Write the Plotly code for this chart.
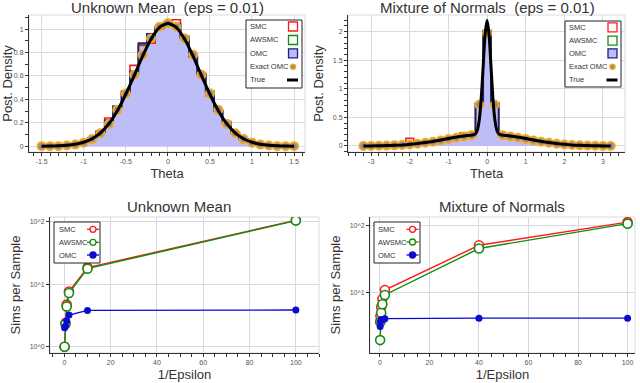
import plotly.graph_objects as go

# ---- top left: Unknown Mean (eps = 0.01), bins of width 0.1 ----
theta_um = [-1.5, -1.4, -1.3, -1.2, -1.1, -1.0, -0.9, -0.8, -0.7, -0.6, -0.5,
            -0.4, -0.3, -0.2, -0.1, 0.0, 0.1, 0.2, 0.3, 0.4, 0.5,
            0.6, 0.7, 0.8, 0.9, 1.0, 1.1, 1.2, 1.3, 1.4, 1.5]
smc_um = [0, 0, 0, 0.005, 0.02, 0.04, 0.07, 0.13, 0.24, 0.33, 0.47,
          0.69, 0.86, 0.88, 1.00, 1.06, 1.08, 0.93, 0.76, 0.62, 0.43,
          0.31, 0.21, 0.12, 0.06, 0.03, 0.01, 0.005, 0, 0, 0]
awsmc_um = [0, 0, 0, 0.005, 0.015, 0.035, 0.07, 0.12, 0.22, 0.34, 0.46,
            0.62, 0.87, 0.90, 1.01, 1.06, 1.05, 0.94, 0.78, 0.62, 0.47,
            0.30, 0.20, 0.11, 0.06, 0.03, 0.012, 0.004, 0, 0, 0]
omc_um = [0, 0, 0, 0.005, 0.015, 0.035, 0.07, 0.12, 0.22, 0.34, 0.46,
          0.64, 0.88, 0.96, 1.02, 1.05, 1.04, 0.92, 0.77, 0.61, 0.45,
          0.30, 0.20, 0.11, 0.06, 0.03, 0.012, 0.004, 0, 0, 0]
exact_um = [0, 0, 0, 0.005, 0.013, 0.03, 0.06, 0.11, 0.19, 0.31, 0.45,
            0.61, 0.78, 0.92, 1.02, 1.05, 1.02, 0.92, 0.78, 0.61, 0.45,
            0.31, 0.19, 0.11, 0.06, 0.03, 0.013, 0.005, 0, 0, 0]
true_um = [0.0, 0.001, 0.003, 0.007, 0.016, 0.033, 0.063, 0.114, 0.192, 0.302, 0.443,
           0.602, 0.769, 0.913, 1.014, 1.05, 1.014, 0.913, 0.769, 0.602, 0.443,
           0.302, 0.192, 0.114, 0.063, 0.033, 0.016, 0.007, 0.003, 0.001, 0.0]

# ---- top right: Mixture of Normals (eps = 0.01), bins of width 0.2 ----
theta_mn = [-3.2, -3.0, -2.8, -2.6, -2.4, -2.2, -2.0, -1.8, -1.6, -1.4, -1.2,
            -1.0, -0.8, -0.6, -0.4, -0.2, 0.0, 0.2, 0.4, 0.6, 0.8,
            1.0, 1.2, 1.4, 1.6, 1.8, 2.0, 2.2, 2.4, 2.6, 2.8, 3.0, 3.2]
smc_mn = [0, 0, 0, 0.005, 0.01, 0.02, 0.135, 0.075, 0.05, 0.07, 0.10,
          0.12, 0.15, 0.23, 0.19, 0.74, 2.0, 0.75, 0.18, 0.15, 0.13,
          0.12, 0.10, 0.11, 0.05, 0.04, 0.03, 0.02, 0.01, 0.005, 0, 0, 0]
awsmc_mn = [0, 0, 0, 0.005, 0.01, 0.02, 0.03, 0.04, 0.06, 0.08, 0.10,
            0.15, 0.15, 0.17, 0.18, 0.74, 2.0, 0.75, 0.19, 0.15, 0.13,
            0.16, 0.10, 0.07, 0.05, 0.04, 0.06, 0.02, 0.01, 0.005, 0, 0, 0]
omc_mn = [0, 0, 0, 0.005, 0.01, 0.02, 0.03, 0.04, 0.055, 0.075, 0.095,
          0.12, 0.14, 0.16, 0.18, 0.74, 2.02, 0.74, 0.18, 0.16, 0.14,
          0.12, 0.095, 0.075, 0.055, 0.04, 0.03, 0.02, 0.01, 0.005, 0, 0, 0]
exact_mn = [0.001, 0.002, 0.004, 0.007, 0.011, 0.018, 0.027, 0.04, 0.056, 0.075, 0.097,
            0.121, 0.145, 0.167, 0.19, 0.72, 1.97, 0.72, 0.19, 0.167, 0.145,
            0.121, 0.097, 0.075, 0.056, 0.04, 0.027, 0.018, 0.011, 0.007, 0.004, 0.002, 0.001]
true_mn_x = [-3.2, -3.0, -2.8, -2.6, -2.4, -2.2, -2.0, -1.8, -1.6, -1.4, -1.2, -1.0,
             -0.8, -0.6, -0.4, -0.35, -0.3, -0.25, -0.2, -0.15, -0.1, -0.05, 0.0,
             0.05, 0.1, 0.15, 0.2, 0.25, 0.3, 0.35, 0.4, 0.6, 0.8, 1.0, 1.2,
             1.4, 1.6, 1.8, 2.0, 2.2, 2.4, 2.6, 2.8, 3.0, 3.2]
true_mn_y = [0.001, 0.002, 0.004, 0.007, 0.011, 0.018, 0.03, 0.043, 0.06, 0.08, 0.105, 0.13,
             0.155, 0.175, 0.19, 0.197, 0.215, 0.281, 0.466, 0.845, 1.41, 1.96, 2.2,
             1.96, 1.41, 0.845, 0.466, 0.281, 0.215, 0.197, 0.19, 0.175, 0.155, 0.13, 0.105,
             0.08, 0.06, 0.043, 0.03, 0.018, 0.011, 0.007, 0.004, 0.002, 0.001]

# ---- bottom: simulations per sample vs 1/epsilon ----
inv_eps_um = [0.1, 0.5, 1, 2, 10, 100]
sims_smc_um = [1.0, 2.4, 4.7, 7.6, 18.3, 104]
sims_awsmc_um = [1.0, 2.3, 4.4, 7.2, 17.6, 103]
sims_omc_um = [2.0, 2.15, 2.6, 3.2, 3.8, 3.85]

inv_eps_mn = [0.1, 0.2, 0.5, 1, 2, 40, 100]
sims_smc_mn = [3.6, 4.4, 6.0, 7.9, 10.8, 51, 114]
sims_awsmc_mn = [1.9, 3.6, 4.9, 6.6, 9.1, 45.6, 108]
sims_omc_mn = [3.05, 3.6, 3.85, 3.85, 4.0, 4.07, 4.07]

RED, GREEN, NAVY, BLUE = "#ff1a1a", "#128c12", "#1c1c8c", "#0a0ad0"
FILL, ORANGE, DOT = "#bdbdf7", "#f5a623", "#8a8a9a"
FONT = "Liberation Sans, Arial, sans-serif"


def px(x):
    return x / 640


def py(y):
    return 1 - y / 383


def steps(centers, vals, w):
    edges = [round(c - w / 2, 3) for c in centers] + [round(centers[-1] + w / 2, 3)]
    return edges, list(vals) + [vals[-1]]


fig = go.Figure()


def add_hist(xa, ya, centers, w, smc, awsmc, omc, exact, tx, ty):
    ex, ey = steps(centers, omc, w)
    fig.add_trace(go.Scatter(x=ex, y=ey, mode="lines", line_shape="hv", fill="tozeroy",
                             fillcolor=FILL, line=dict(width=0), xaxis=xa, yaxis=ya))
    for vals, col in [(smc, RED), (awsmc, GREEN), (omc, NAVY)]:
        sx, sy = steps(centers, vals, w)
        fig.add_trace(go.Scatter(x=sx, y=sy, mode="lines", line_shape="hv",
                                 line=dict(color=col, width=1.6), xaxis=xa, yaxis=ya))
    fig.add_trace(go.Scatter(x=centers, y=exact, mode="markers",
                             marker=dict(size=8, color=DOT, line=dict(color=ORANGE, width=2)),
                             xaxis=xa, yaxis=ya))
    fig.add_trace(go.Scatter(x=tx, y=ty, mode="lines", line_shape="spline",
                             line=dict(color="black", width=3, smoothing=0.5), xaxis=xa, yaxis=ya))


add_hist("x", "y", theta_um, 0.1, smc_um, awsmc_um, omc_um, exact_um, theta_um, true_um)
add_hist("x2", "y2", theta_mn, 0.2, smc_mn, awsmc_mn, omc_mn, exact_mn, true_mn_x, true_mn_y)


def add_sims(xa, ya, xs, smc, awsmc, omc):
    for vals, col in [(smc, RED), (awsmc, GREEN)]:
        fig.add_trace(go.Scatter(x=xs, y=vals, mode="lines+markers",
                                 line=dict(color=col, width=1.4),
                                 marker=dict(size=9, color="white", line=dict(color=col, width=1.6)),
                                 xaxis=xa, yaxis=ya))
    fig.add_trace(go.Scatter(x=xs, y=omc, mode="lines+markers",
                             line=dict(color=BLUE, width=1.4),
                             marker=dict(size=7, color=BLUE), xaxis=xa, yaxis=ya))


add_sims("x3", "y3", inv_eps_um, sims_smc_um, sims_awsmc_um, sims_omc_um)
add_sims("x4", "y4", inv_eps_mn, sims_smc_mn, sims_awsmc_mn, sims_omc_mn)

axis = dict(showgrid=True, gridcolor="#d9d9e3", gridwidth=1, zeroline=False,
            showline=True, linecolor="#333", linewidth=1, ticks="outside", ticklen=3,
            tickcolor="#333", tickfont=dict(size=7, color="#555", family=FONT),
            title_font=dict(size=13, color="#333", family=FONT))
minor = dict(ticks="outside", ticklen=3, tickcolor="#333", showgrid=False)


def num(v):
    return ("%g" % v)


um_ticks = [-1.5, -1, -0.5, 0, 0.5, 1, 1.5]
mn_ticks = [-3, -2, -1, 0, 1, 2, 3]
fig.update_layout(
    width=640, height=383, margin=dict(l=0, r=0, t=0, b=0),
    paper_bgcolor="white", plot_bgcolor="white", showlegend=False,
    font=dict(family=FONT, color="#333"),
    xaxis=dict(axis, anchor="y", domain=[px(29), px(305)], range=[-1.65, 1.63], tickmode="array",
               tickvals=um_ticks, ticktext=[num(v) for v in um_ticks],
               minor=dict(minor, dtick=0.1, tick0=0), title=dict(text="Theta", standoff=4)),
    yaxis=dict(axis, anchor="x", domain=[py(152), py(15)], range=[-0.05, 1.12], dtick=0.2,
               minor=dict(minor, dtick=0.1, tick0=0), title=dict(text="Post. Density", standoff=6)),
    xaxis2=dict(axis, anchor="y2", domain=[px(348), px(625)], range=[-3.6, 3.57], tickmode="array",
                tickvals=mn_ticks, ticktext=[num(v) for v in mn_ticks],
                minor=dict(minor, dtick=0.2, tick0=0), title=dict(text="Theta", standoff=4)),
    yaxis2=dict(axis, anchor="x2", domain=[py(152), py(15)], range=[-0.105, 2.29], dtick=0.5,
                minor=dict(minor, dtick=0.1, tick0=0), title=dict(text="Post. Density", standoff=6)),
    xaxis3=dict(axis, anchor="y3", domain=[px(50), px(319)], range=[-6.2, 110], dtick=20,
                minor=dict(minor, dtick=5, tick0=0), title=dict(text="1/Epsilon", standoff=4)),
    yaxis3=dict(axis, anchor="x3", domain=[py(353), py(217)], type="log", range=[-0.1, 2.07],
                tickvals=[1, 10, 100], ticktext=["10^0", "10^1", "10^2"],
                title=dict(text="Sims per Sample", standoff=6)),
    xaxis4=dict(axis, anchor="y4", domain=[px(370), px(635)], range=[-4, 103], dtick=20,
                minor=dict(minor, dtick=5, tick0=0), title=dict(text="1/Epsilon", standoff=4)),
    yaxis4=dict(axis, anchor="x4", domain=[py(353), py(217)], type="log", range=[0.084, 2.134],
                tickvals=[1, 10, 100], ticktext=["10^0", "10^1", "10^2"],
                title=dict(text="Sims per Sample", standoff=6)),
)

# light frame on the top/right of each panel
for xa, ya in [("x", "y"), ("x2", "y2"), ("x3", "y3"), ("x4", "y4")]:
    fig.add_shape(type="rect", xref=xa + " domain", yref=ya + " domain", x0=0, x1=1, y0=0, y1=1,
                  line=dict(color="#d9d9e3", width=1), layer="below")

# panel titles
for text, cx, cy in [("Unknown Mean \u00a0(eps = 0.01)", 167, 8), ("Mixture of Normals \u00a0(eps = 0.01)", 487, 8),
                     ("Unknown Mean", 179, 206), ("Mixture of Normals", 502, 206)]:
    fig.add_annotation(text=text, x=px(cx), y=py(cy), xref="paper", yref="paper", showarrow=False,
                       xanchor="center", yanchor="middle", font=dict(size=15, color="#333", family=FONT))


def legend(x0, y0, x1, y1, rows, text_x, sym_x, entries):
    fig.add_shape(type="rect", xref="paper", yref="paper", x0=px(x0), x1=px(x1), y0=py(y1), y1=py(y0),
                  line=dict(color="#222", width=1), fillcolor="white", layer="above")
    for (label, kind, col), ry in zip(entries, rows):
        fig.add_annotation(text=label, x=px(text_x), y=py(ry), xref="paper", yref="paper", showarrow=False,
                           xanchor="left", yanchor="middle", font=dict(size=7.5, color="#333", family=FONT))
        if kind in ("box", "fillbox"):
            fig.add_shape(type="rect", xref="paper", yref="paper", x0=px(sym_x - 4.5), x1=px(sym_x + 4.5),
                          y0=py(ry + 4.5), y1=py(ry - 4.5), line=dict(color=col, width=1.3),
                          fillcolor=FILL if kind == "fillbox" else "white", layer="above")
        elif kind == "dot":
            fig.add_shape(type="circle", xref="paper", yref="paper", x0=px(sym_x - 2.5), x1=px(sym_x + 2.5),
                          y0=py(ry + 2.5), y1=py(ry - 2.5), line=dict(color=ORANGE, width=1.5),
                          fillcolor=DOT, layer="above")
        elif kind == "bar":
            fig.add_shape(type="line", xref="paper", yref="paper", x0=px(sym_x - 6), x1=px(sym_x + 5),
                          y0=py(ry), y1=py(ry), line=dict(color=col, width=3), layer="above")
        else:
            fig.add_shape(type="line", xref="paper", yref="paper", x0=px(sym_x - 6), x1=px(sym_x + 6),
                          y0=py(ry), y1=py(ry), line=dict(color=col, width=1.3), layer="above")
            fig.add_shape(type="circle", xref="paper", yref="paper", x0=px(sym_x - 3), x1=px(sym_x + 3),
                          y0=py(ry + 3), y1=py(ry - 3), line=dict(color=col, width=1.3),
                          fillcolor="white" if kind == "open" else col, layer="above")


hist_entries = [("SMC", "box", RED), ("AWSMC", "box", GREEN), ("OMC", "fillbox", NAVY),
                ("Exact OMC", "dot", ORANGE), ("True", "bar", "black")]
sims_entries = [("SMC", "open", RED), ("AWSMC", "open", GREEN), ("OMC", "filled", BLUE)]
legend(246, 20, 302, 88, [26.5, 40, 53.3, 66.7, 80], 248, 293, hist_entries)
legend(565, 21, 621, 87, [27.3, 40.7, 53.3, 66.7, 80], 567, 612.5, hist_entries)
legend(54, 222, 100, 263, [229.3, 242.3, 255], 56.5, 93, sims_entries)
legend(374, 222, 420, 263, [229.3, 242, 255], 376, 412.5, sims_entries)

# the page body has a default 8px margin; drop it so the figure fills the window
fig.write_html("out.html", config={"displayModeBar": False},
               post_script="document.body.style.margin = '0';")
